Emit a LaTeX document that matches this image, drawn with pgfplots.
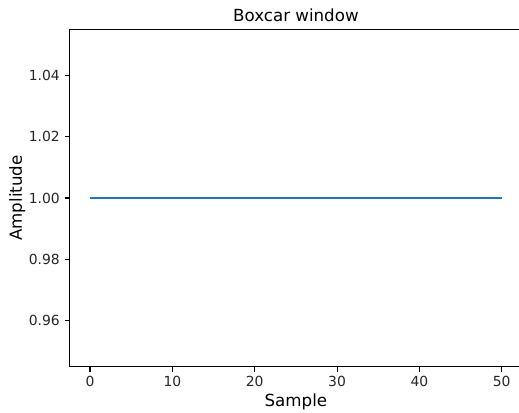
\documentclass[border=0pt]{standalone}
\usepackage{fontspec}
\setmainfont{DejaVu Sans}
\usepackage{pgfplots}
\pgfplotsset{compat=1.18}
\definecolor{mplblue}{HTML}{1F77B4}
\begin{document}
\fontsize{10pt}{12pt}\selectfont
\begin{tikzpicture}
\begin{axis}[
  at={(0,0)}, anchor=south west,
  scale only axis, width=326pt, height=242.9pt,
  xmin=-2.5, xmax=52.5, ymin=0.945, ymax=1.055,
  xtick={0,10,20,30,40,50},
  ytick={0.96,0.98,1.00,1.02,1.04},
  yticklabel style={/pgf/number format/.cd, fixed, fixed zerofill, precision=2},
  /pgf/number format/assume math mode=true,
  tick align=outside, tick pos=left,
  major tick length=3.5pt,
  tick style={black, line width=0.8pt},
  axis line style={line width=0.8pt},
  ticklabel style={font=\fontsize{10pt}{12pt}\selectfont, text=black!85},
  title={Boxcar window},
  title style={font=\fontsize{12pt}{14pt}\selectfont, at={(axis description cs:0.5,1.0177)}, anchor=center, inner sep=0pt},
  xlabel={Sample},
  xlabel style={font=\fontsize{12pt}{14pt}\selectfont, at={(axis description cs:0.5,-0.1030)}, anchor=center, inner sep=0pt},
  ylabel={Amplitude},
  ylabel style={font=\fontsize{12pt}{14pt}\selectfont, at={(axis description cs:-0.1153,0.5)}, anchor=center, inner sep=0pt},
]
\addplot[mplblue, line width=1.5pt] coordinates {
(0,1) (1,1) (2,1) (3,1) (4,1) (5,1) (6,1) (7,1) (8,1) (9,1)
(10,1) (11,1) (12,1) (13,1) (14,1) (15,1) (16,1) (17,1) (18,1) (19,1)
(20,1) (21,1) (22,1) (23,1) (24,1) (25,1) (26,1) (27,1) (28,1) (29,1)
(30,1) (31,1) (32,1) (33,1) (34,1) (35,1) (36,1) (37,1) (38,1) (39,1)
(40,1) (41,1) (42,1) (43,1) (44,1) (45,1) (46,1) (47,1) (48,1) (49,1)
(50,1)
};
\end{axis}
\pgfresetboundingbox
\path (-50.0pt,-32.6pt) rectangle (323.6pt,264.0pt);
\end{tikzpicture}
\end{document}
